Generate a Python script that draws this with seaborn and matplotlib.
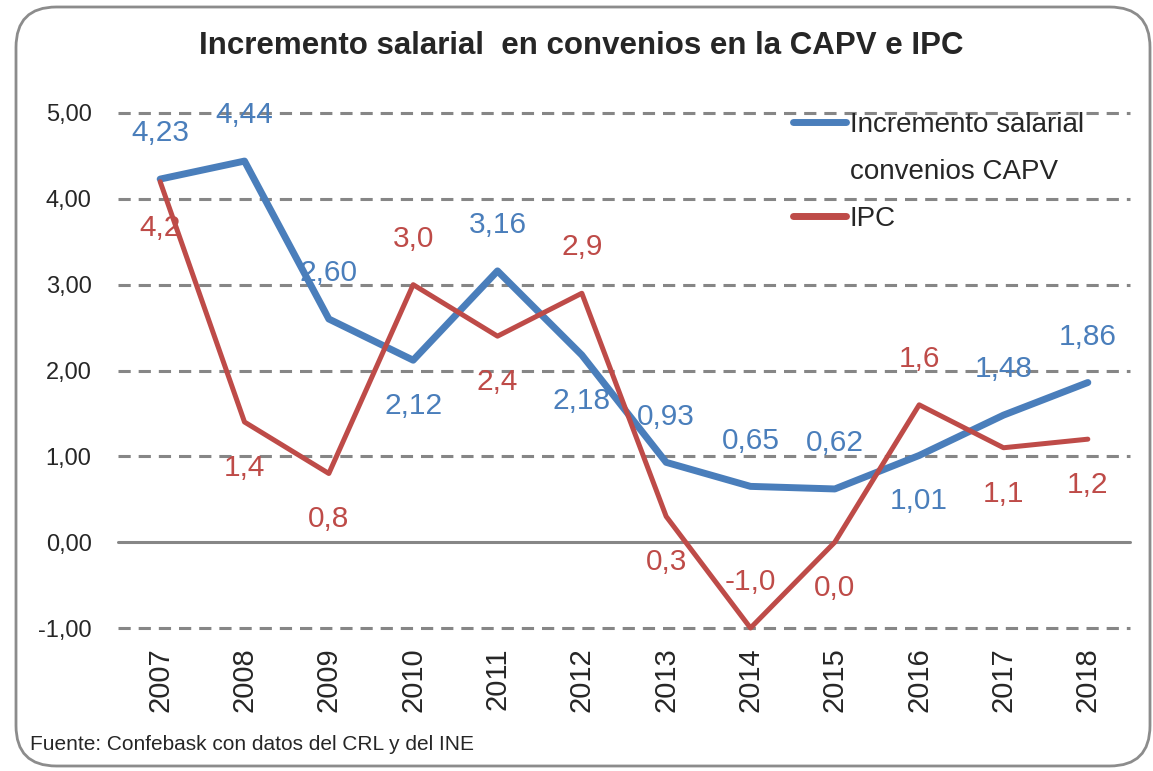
import matplotlib
matplotlib.use("Agg")
import matplotlib.pyplot as plt
from matplotlib.lines import Line2D
from matplotlib.patches import FancyBboxPatch
import seaborn as sns
import pandas as pd

years = ['2007', '2008', '2009', '2010', '2011', '2012',
         '2013', '2014', '2015', '2016', '2017', '2018']
salarios = [4.23, 4.44, 2.60, 2.12, 3.16, 2.18, 0.93, 0.65, 0.62, 1.01, 1.48, 1.86]
ipc = [4.2, 1.4, 0.8, 3.0, 2.4, 2.9, 0.3, -1.0, 0.0, 1.6, 1.1, 1.2]
yticks = [-1, 0, 1, 2, 3, 4, 5]

# label side for each point: 1 above, -1 below
sal_side = [1, 1, 1, -1, 1, -1, 1, 1, 1, -1, 1, 1]
ipc_side = [-1, -1, -1, 1, -1, 1, -1, 1, -1, 1, -1, -1]

BLUE = '#4A7EBB'
RED = '#BE4B48'
GRID = '#868686'

sns.set_style("white")
plt.rcParams['font.family'] = ['Liberation Sans', 'DejaVu Sans']

df = pd.DataFrame({"year": years, "salarios": salarios, "ipc": ipc})
df["x"] = range(len(df))

fig = plt.figure(figsize=(11.53, 7.71), dpi=100)
ax = fig.add_axes([118 / 1153, 1 - 628 / 771, (1130 - 118) / 1153, (628 - 113) / 771])

# gridlines (solid at zero, like the category axis)
for y in yticks:
    ls = '-' if y == 0 else (0, (4, 2.6))
    ax.axhline(y, color=GRID, lw=2.2, ls=ls, zorder=1, clip_on=False)

def labels(vals, side, color, fmt):
    for i, v in enumerate(vals):
        txt = fmt.format(v).replace('.', ',')
        ax.annotate(txt, (i, v), xytext=(0, 33 * side[i]),
                    textcoords='offset points', ha='center', va='center',
                    fontsize=21.5, color=color, zorder=2)

labels(salarios, sal_side, BLUE, "{:.2f}")
labels(ipc, ipc_side, RED, "{:.1f}")

sns.lineplot(data=df, x="x", y="salarios", color=BLUE, lw=5, ax=ax, zorder=3, clip_on=False)
sns.lineplot(data=df, x="x", y="ipc", color=RED, lw=3.6, ax=ax, zorder=4, clip_on=False)

ax.set_xlim(-0.5, len(years) - 0.5)
ax.set_ylim(-1, 5)
ax.set_xticks(df["x"])
ax.set_xticklabels(years, rotation=90, fontsize=21)
ax.set_yticks(yticks)
ax.set_yticklabels([f"{y:.2f}".replace('.', ',') for y in yticks], fontsize=17)
ax.tick_params(axis='x', length=0, pad=14)
ax.tick_params(axis='y', length=0, pad=19)
ax.set_xlabel("")
ax.set_ylabel("")
for s in ax.spines.values():
    s.set_visible(False)

handles = [Line2D([], [], color=BLUE, lw=5, solid_capstyle='round'),
           Line2D([], [], color='none'),
           Line2D([], [], color=RED, lw=5, solid_capstyle='round')]
ax.legend(handles, ['Incremento salarial', 'convenios CAPV', 'IPC'],
          loc='upper left', bbox_to_anchor=(793 / 1153, 1 - 112 / 771),
          bbox_transform=fig.transFigure, frameon=False, fontsize=20,
          handlelength=1.9, handletextpad=0.15, labelspacing=0.75,
          borderpad=0, borderaxespad=0)

fig.text(581 / 1153, 1 - 46 / 771, "Incremento salarial  en convenios en la CAPV e IPC",
         ha='center', va='center', fontsize=22.5, fontweight='bold')
fig.text(30 / 1153, 1 - 745 / 771, "Fuente: Confebask con datos del CRL y del INE",
         ha='left', va='center', fontsize=15)

border = FancyBboxPatch((16 / 1153, 5 / 771), 1134 / 1153, 759 / 771,
                        boxstyle="round,pad=0,rounding_size=0.035",
                        transform=fig.transFigure, fill=False,
                        edgecolor='#8C8C8C', lw=2, mutation_aspect=1153 / 771)
fig.patches.append(border)

fig.savefig("out.png", dpi=100)
